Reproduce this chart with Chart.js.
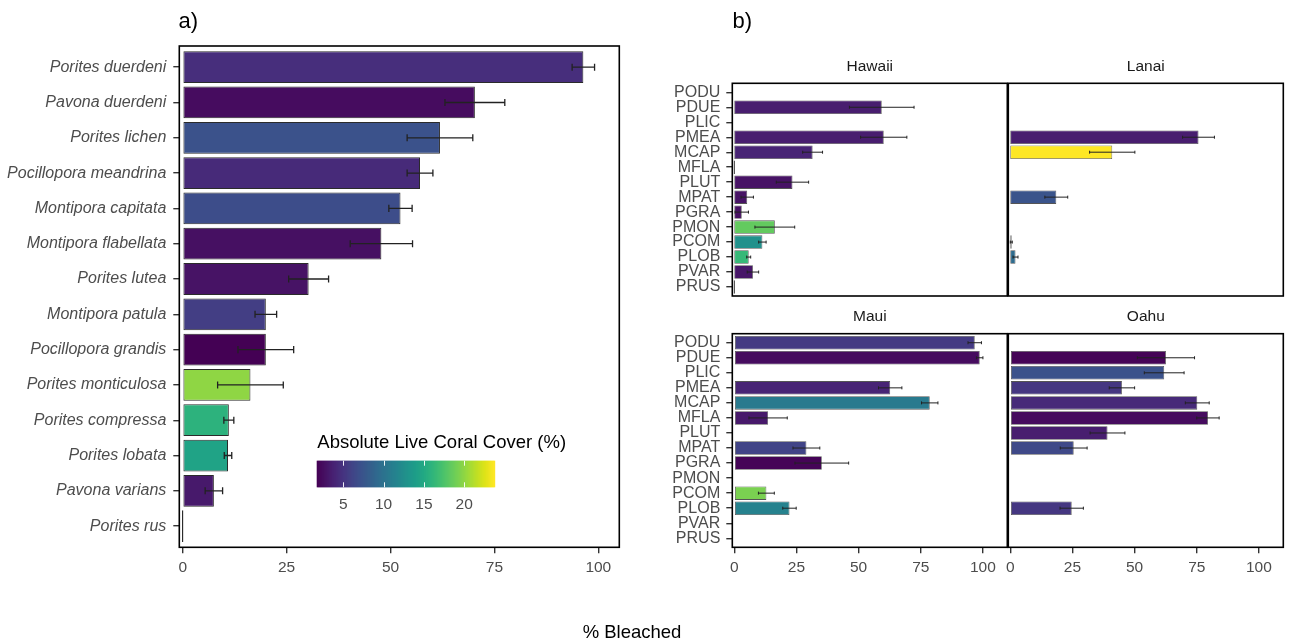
<!DOCTYPE html>
<html>
<head>
<meta charset="utf-8">
<script src="https://cdn.jsdelivr.net/npm/chart.js@4.4.1/dist/chart.umd.min.js"></script>
<style>
  html, body { margin: 0; padding: 0; background: #ffffff; }
  #page { position: relative; width: 1290px; height: 641px; overflow: hidden; background: #ffffff; }
  #page canvas { position: absolute; left: 0; top: 0; }
</style>
</head>
<body>
<div id="page">
  <canvas id="pooled" width="1290" height="641"></canvas>
  <canvas id="hawaii" width="1290" height="641"></canvas>
  <canvas id="lanai" width="1290" height="641"></canvas>
  <canvas id="maui" width="1290" height="641"></canvas>
  <canvas id="oahu" width="1290" height="641"></canvas>
</div>
<script>
// ---- Panel a: all islands pooled, by species ----
const speciesNames = ["Porites duerdeni", "Pavona duerdeni", "Porites lichen", "Pocillopora meandrina",
  "Montipora capitata", "Montipora flabellata", "Porites lutea", "Montipora patula",
  "Pocillopora grandis", "Porites monticulosa", "Porites compressa", "Porites lobata",
  "Pavona varians", "Porites rus"];
const pooledBleached = [96.4, 70.3, 61.9, 57.1, 52.4, 47.8, 30.3, 20.0, 20.0, 16.3, 11.1, 10.9, 7.5, 0];
const pooledSE       = [2.7, 7.2, 7.9, 3.1, 2.8, 7.5, 4.8, 2.6, 6.7, 7.9, 1.2, 0.9, 2.1, 0];
const pooledCover    = [4.6, 2.4, 7.2, 4.3, 6.8, 2.6, 2.8, 5.7, 1.7, 20.0, 15.8, 14.4, 3.2, null];

// ---- Panel b: per island, by species code ----
const speciesCodes = ["PODU", "PDUE", "PLIC", "PMEA", "MCAP", "MFLA", "PLUT", "MPAT",
  "PGRA", "PMON", "PCOM", "PLOB", "PVAR", "PRUS"];

const hawaiiBleached = [null, 59.3, null, 60.1, 31.5, 0, 23.4, 5.2, 3.0, 16.3, 11.3, 5.8, 7.5, 0];
const hawaiiSE       = [null, 13.0, null, 9.3, 4.0, 0, 6.5, 2.5, 2.7, 8.0, 1.5, 0.8, 2.3, 0];
const hawaiiCover    = [null, 3.5, null, 3.5, 3.9, null, 2.8, 2.8, 2.6, 18.4, 12.7, 16.4, 3.0, null];

const lanaiBleached = [null, null, null, 75.7, 41.0, null, null, 18.5, null, null, 0.4, 2.1, null, null];
const lanaiSE       = [null, null, null, 6.4, 9.1, null, null, 4.6, null, null, 0.4, 1.0, null, null];
const lanaiCover    = [null, null, null, 3.5, 23.7, null, null, 7.4, null, null, 6.0, 9.4, null, null];

const mauiBleached = [96.7, 98.7, null, 62.7, 78.6, 13.6, null, 29.0, 35.2, null, 12.9, 22.2, null, null];
const mauiSE       = [2.7, 1.3, null, 4.7, 3.3, 7.7, null, 5.4, 10.8, null, 3.2, 2.7, null, null];
const mauiCover    = [5.4, 2.4, null, 3.9, 10.7, 3.2, null, 6.1, 1.9, null, 19.3, 11.4, null, null];

const oahuBleached = [null, 62.6, 61.9, 44.9, 75.2, 79.5, 39.1, 25.5, null, null, null, 24.7, null, null];
const oahuSE       = [null, 11.5, 8.0, 5.1, 4.8, 4.5, 7.0, 5.4, null, null, null, 4.7, null, null];
const oahuCover    = [null, 1.9, 7.2, 5.2, 4.3, 2.4, 3.5, 6.5, null, null, null, 5.2, null, null];

// ---- axis ticks and colour scale ----
const bleachTicks = [0, 25, 50, 75, 100];
const coverTicks = [5, 10, 15, 20];
const coverDomain = [1.7, 23.7];

const VIRIDIS = ["#440154", "#471365", "#482475", "#463480", "#414487", "#3b528b", "#355f8d",
  "#2f6c8e", "#2a788e", "#25848e", "#21918c", "#1e9c89", "#22a884", "#2fb47c", "#44bf70",
  "#5ec962", "#7ad151", "#9bd93c", "#bddf26", "#dfe318", "#fde725"];

function hexRgb(h) {
  return [parseInt(h.slice(1, 3), 16), parseInt(h.slice(3, 5), 16), parseInt(h.slice(5, 7), 16)];
}
function viridis(t) {
  t = Math.max(0, Math.min(1, t));
  const p = t * (VIRIDIS.length - 1);
  const i = Math.min(VIRIDIS.length - 2, Math.floor(p));
  const f = p - i;
  const a = hexRgb(VIRIDIS[i]), b = hexRgb(VIRIDIS[i + 1]);
  const c = a.map((v, k) => Math.round(v + (b[k] - v) * f));
  return `rgb(${c[0]},${c[1]},${c[2]})`;
}
function coverColor(v) {
  if (v === null || v === undefined) return "rgba(0,0,0,0)";
  return viridis((v - coverDomain[0]) / (coverDomain[1] - coverDomain[0]));
}

const FONT = '"Liberation Sans", Arial, Helvetica, sans-serif';
const PAGE_W = 1290, PAGE_H = 641;
const AXIS_TEXT = "#4d4d4d";

// ---- plugins ----
const panelFrame = {
  id: "panelFrame",
  afterDraw(chart) {
    const { ctx, chartArea: a } = chart;
    ctx.save();
    ctx.strokeStyle = "#000";
    ctx.lineWidth = 1.6;
    ctx.strokeRect(a.left, a.top, a.right - a.left, a.bottom - a.top);
    const title = chart.options.plugins.panelFrame && chart.options.plugins.panelFrame.title;
    if (title) {
      ctx.fillStyle = "#1a1a1a";
      ctx.font = `15.5px ${FONT}`;
      ctx.textAlign = "center";
      ctx.textBaseline = "middle";
      ctx.fillText(title, (a.left + a.right) / 2, a.top - 17);
    }
    ctx.restore();
  }
};

const errorBars = {
  id: "errorBars",
  afterDatasetsDraw(chart) {
    const ds = chart.data.datasets[0];
    const se = ds.errorSE;
    if (!se) return;
    const xs = chart.scales.x, ys = chart.scales.y;
    const band = Math.abs(ys.getPixelForValue(1) - ys.getPixelForValue(0));
    const half = band * 0.1;
    const { ctx } = chart;
    ctx.save();
    ctx.strokeStyle = "#222";
    ctx.lineWidth = ds.errorLineWidth || 1.2;
    ds.data.forEach((d, i) => {
      if (d.x === null || se[i] === null || se[i] === 0) return;
      const y = ys.getPixelForValue(d.y);
      const x0 = xs.getPixelForValue(d.x - se[i]);
      const x1 = xs.getPixelForValue(d.x + se[i]);
      ctx.beginPath();
      ctx.moveTo(x0, y); ctx.lineTo(x1, y);
      ctx.moveTo(x0, y - half); ctx.lineTo(x0, y + half);
      ctx.moveTo(x1, y - half); ctx.lineTo(x1, y + half);
      ctx.stroke();
    });
    ctx.restore();
  }
};

// colour bar legend inside panel a
const colourBar = {
  id: "colourBar",
  afterDraw(chart) {
    const { ctx, chartArea: a } = chart;
    const left = a.left + 137.4, top = a.top + 414.7, w = 177.3, h = 26.6;
    ctx.save();
    for (let px = 0; px < w; px++) {
      const v = coverDomain[0] + (px + 0.5) / w * (coverDomain[1] - coverDomain[0]);
      ctx.fillStyle = coverColor(v);
      ctx.fillRect(left + px, top, 1.5, h);
    }
    const toX = v => left + (v - coverDomain[0]) / (coverDomain[1] - coverDomain[0]) * w;
    ctx.strokeStyle = "rgba(255,255,255,0.9)";
    ctx.lineWidth = 1;
    coverTicks.forEach(v => {
      const x = Math.round(toX(v)) + 0.5;
      ctx.beginPath();
      ctx.moveTo(x, top); ctx.lineTo(x, top + 5);
      ctx.moveTo(x, top + h - 5); ctx.lineTo(x, top + h);
      ctx.stroke();
    });
    ctx.fillStyle = AXIS_TEXT;
    ctx.font = `15.5px ${FONT}`;
    ctx.textAlign = "center";
    ctx.textBaseline = "middle";
    coverTicks.forEach(v => ctx.fillText(String(v), toX(v), top + h + 17.5));
    ctx.fillStyle = "#000";
    ctx.font = `18.5px ${FONT}`;
    ctx.textAlign = "left";
    ctx.fillText("Absolute Live Coral Cover (%)", left + 0.6, top - 17.5);
    ctx.restore();
  }
};

// panel tags and the shared axis title
const pageText = {
  id: "pageText",
  afterDraw(chart) {
    const { ctx } = chart;
    ctx.save();
    ctx.fillStyle = "#000";
    ctx.textBaseline = "alphabetic";
    ctx.font = `22px ${FONT}`;
    ctx.textAlign = "left";
    ctx.fillText("a)", 178.5, 28);
    ctx.fillText("b)", 732.5, 28);
    ctx.font = `18.5px ${FONT}`;
    ctx.textAlign = "center";
    ctx.fillText("% Bleached", 632, 638);
    ctx.restore();
  }
};

function valueAxis(min, max, show, height) {
  return {
    type: "linear", position: "bottom", min, max, offset: false,
    afterBuildTicks: s => { s.ticks = bleachTicks.map(v => ({ value: v })); },
    afterFit: s => { s.height = height; },
    border: { display: false },
    grid: { display: show, offset: false, drawOnChartArea: false, drawTicks: true, tickLength: 6,
            tickColor: "#333", tickWidth: 1.4, lineWidth: 1.4 },
    ticks: { display: show, autoSkip: false, maxRotation: 0, padding: 5,
             color: AXIS_TEXT, font: { family: FONT, size: 15.5 } }
  };
}

function categoryAxis(labels, show, width, font, pad) {
  return {
    type: "linear", position: "left", reverse: true, min: -0.6, max: labels.length - 0.4,
    offset: false,
    afterBuildTicks: s => { s.ticks = labels.map((_, i) => ({ value: i })); },
    afterFit: s => { s.width = width; },
    border: { display: false },
    grid: { display: show, offset: false, drawOnChartArea: false, drawTicks: true, tickLength: 6,
            tickColor: "#333", tickWidth: 1.4, lineWidth: 1.4 },
    ticks: { display: show, autoSkip: false, padding: pad, color: AXIS_TEXT, font,
             callback: v => labels[v] }
  };
}

function barDataset(values, se, cover, borderColor, borderWidth, errW) {
  return {
    data: values.map((v, i) => ({ x: v, y: i })),
    errorSE: se,
    errorLineWidth: errW,
    backgroundColor: cover.map(coverColor),
    borderColor, borderWidth, borderSkipped: false,
    barPercentage: 0.9, categoryPercentage: 1.0, minBarLength: 1.4
  };
}

// ---- panel a ----
const boxA = { left: 179.3, right: 619.3, top: 46, bottom: 547.3 };
new Chart(document.getElementById("pooled"), {
  type: "bar",
  data: { datasets: [barDataset(pooledBleached, pooledSE, pooledCover, "#2b2b2b", 1, 1.3)] },
  options: {
    indexAxis: "y", responsive: false, animation: false, devicePixelRatio: 1,
    layout: { padding: { left: 0, top: boxA.top, right: PAGE_W - boxA.right, bottom: PAGE_H - boxA.bottom - 30 } },
    scales: {
      x: valueAxis(-0.82, 105.05, true, 30),
      y: categoryAxis(speciesNames, true, boxA.left, { family: FONT, size: 16, style: "italic" }, 7)
    },
    plugins: { legend: { display: false }, tooltip: { enabled: false }, panelFrame: {} }
  },
  plugins: [errorBars, panelFrame, colourBar, pageText]
});

// ---- panel b facets ----
function facet(id, title, values, se, cover, box, showY, showX) {
  return new Chart(document.getElementById(id), {
    type: "bar",
    data: { datasets: [barDataset(values, se, cover, "#555", 0.8, 1.0)] },
    options: {
      indexAxis: "y", responsive: false, animation: false, devicePixelRatio: 1,
      layout: { padding: {
        left: showY ? 0 : box.left, top: box.top, right: PAGE_W - box.right,
        bottom: PAGE_H - box.bottom - (showX ? 30 : 0) } },
      scales: {
        x: valueAxis(-0.8, 109.8, showX, showX ? 30 : 0),
        y: categoryAxis(speciesCodes, showY, showY ? box.left : 0, { family: FONT, size: 16 }, 6)
      },
      plugins: { legend: { display: false }, tooltip: { enabled: false }, panelFrame: { title } }
    },
    plugins: [errorBars, panelFrame]
  });
}

const topRow = { top: 83.3, bottom: 296 };
const bottomRow = { top: 333.7, bottom: 547.3 };
const leftCol = { left: 732.3, right: 1007.3 };
const rightCol = { left: 1008.3, right: 1283.3 };

facet("hawaii", "Hawaii", hawaiiBleached, hawaiiSE, hawaiiCover, { ...leftCol, ...topRow }, true, false);
facet("lanai", "Lanai", lanaiBleached, lanaiSE, lanaiCover, { ...rightCol, ...topRow }, false, false);
facet("maui", "Maui", mauiBleached, mauiSE, mauiCover, { ...leftCol, ...bottomRow }, true, true);
facet("oahu", "Oahu", oahuBleached, oahuSE, oahuCover, { ...rightCol, ...bottomRow }, false, true);
</script>
</body>
</html>
